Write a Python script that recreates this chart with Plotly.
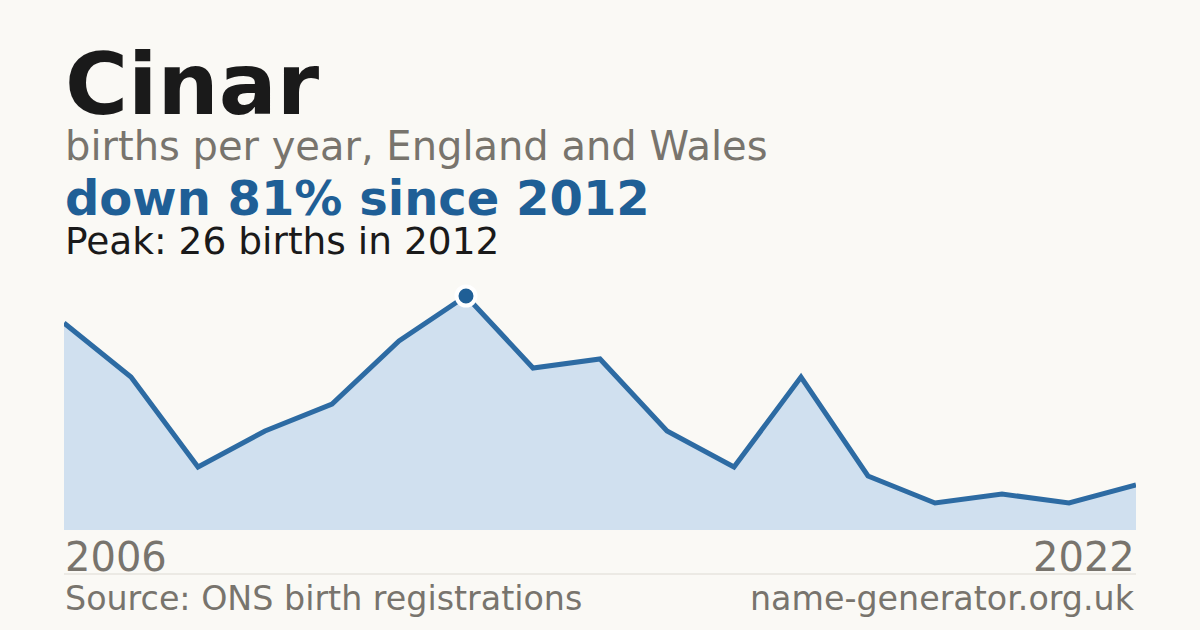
import plotly.graph_objects as go

name = "Cinar"
years = [2006, 2007, 2008, 2009, 2010, 2011, 2012, 2013, 2014,
         2015, 2016, 2017, 2018, 2019, 2020, 2021, 2022]
births = [23, 17, 7, 11, 14, 21, 26, 18, 19, 11, 7, 17, 6, 3, 4, 3, 5]

peak = max(births)
peak_year = years[births.index(peak)]
change = round((1 - births[-1] / peak) * 100)

BG = "#faf9f5"
BLUE = "#1f5f96"
GREY = "#78746d"
INK = "#1a1a1a"
FONT = "DejaVu Sans"

# plot area: x 64..1136, y 260..530 px
T, B = 260, 100
H = 630 - T - B


def py(px):
    # pixel row -> paper y
    return (630 - B - px) / H


fig = go.Figure()
fig.add_trace(go.Scatter(
    x=years, y=births, mode="lines",
    line=dict(color="#2d6ba3", width=5),
    fill="tozeroy", fillcolor="#d0e0ef",
    hoverinfo="skip", showlegend=False,
))
fig.add_trace(go.Scatter(
    x=[peak_year], y=[peak], mode="markers",
    marker=dict(color=BLUE, size=19, line=dict(color="white", width=4)),
    hoverinfo="skip", showlegend=False, cliponaxis=False,
))

texts = [
    (name, 114, 86, INK, True),
    ("births per year, England and Wales", 160, 40, GREY, False),
    (f"down {change}% since {peak_year}", 215, 48, BLUE, True),
    (f"Peak: {peak} births in {peak_year}", 255, 37.5, INK, False),
]
ann = []
for txt, base, size, col, bold in texts:
    ann.append(dict(
        text=f"<b>{txt}</b>" if bold else txt,
        x=0, xref="paper", xanchor="left",
        y=py(base + size * 0.24), yref="paper", yanchor="bottom",
        showarrow=False, borderpad=0,
        font=dict(family=FONT, size=size, color=col),
    ))

for yr, xa, anchor in [(years[0], 0, "left"), (years[-1], 1, "right")]:
    ann.append(dict(text=str(yr), x=xa, xref="paper", xanchor=anchor,
                    y=py(571 + 40 * 0.24), yref="paper", yanchor="bottom",
                    showarrow=False, borderpad=0,
                    font=dict(family=FONT, size=40, color=GREY)))

ann.append(dict(text="Source: ONS birth registrations", x=0, xref="paper",
                xanchor="left", y=py(611 + 33.3 * 0.24), yref="paper",
                yanchor="bottom", showarrow=False, borderpad=0,
                font=dict(family=FONT, size=33.3, color=GREY)))
ann.append(dict(text="name-generator.org.uk", x=1, xref="paper",
                xanchor="right", y=py(611 + 33.3 * 0.24), yref="paper",
                yanchor="bottom", showarrow=False, borderpad=0,
                font=dict(family=FONT, size=33.3, color=GREY)))

fig.update_layout(
    width=1200, height=630,
    margin=dict(l=64, r=64, t=T, b=B),
    paper_bgcolor=BG, plot_bgcolor=BG,
    xaxis=dict(range=[years[0], years[-1]], visible=False, fixedrange=True),
    yaxis=dict(range=[0, 30], visible=False, fixedrange=True),
    annotations=ann,
    shapes=[dict(type="line", xref="paper", yref="paper",
                 x0=0, x1=1, y0=py(574), y1=py(574),
                 line=dict(color="#dddad3", width=1))],
)

fig.write_html("out.html", config={"displayModeBar": False},
               post_script="document.body.style.margin='0';"
                           f"document.body.style.background='{BG}';")
